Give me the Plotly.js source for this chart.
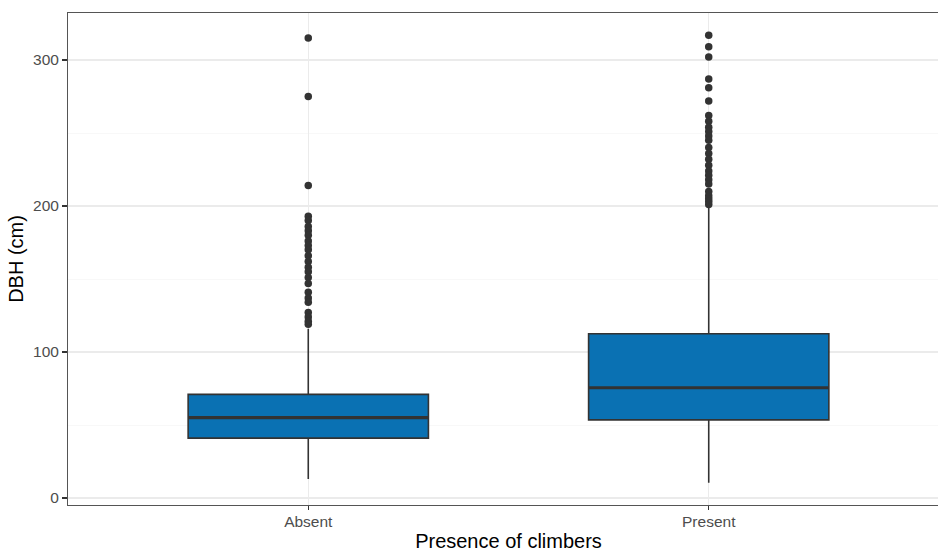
<!DOCTYPE html>
<html>
<head>
<meta charset="utf-8">
<script src="https://cdn.plot.ly/plotly-3.0.1.min.js"></script>
<style>html,body{margin:0;padding:0;background:#fff;overflow:hidden;width:938px;height:552px;}#chart{width:949px;height:552px;}</style>
</head>
<body>
<div id="chart"></div>
<script>
var categories = ["Absent", "Present"];
var q1 = [41, 53.5];
var medians = [55, 75.5];
var q3 = [71, 112.5];
var lowerWhisker = [13, 10.5];
var upperWhisker = [116, 200];
var outliersAbsent = [315, 275, 214, 193, 190, 186, 183, 180, 176, 173, 170, 166, 162, 158, 155, 151, 147, 141, 137, 134, 127, 124, 121, 119];
var outliersPresent = [317, 309, 302, 287, 281, 272, 262, 258, 254, 251, 248, 245, 240, 236, 232, 228, 224, 221, 218, 215, 210, 207, 205, 203, 201];

var outX = [], outY = [];
outliersAbsent.forEach(function(v){ outX.push(categories[0]); outY.push(v); });
outliersPresent.forEach(function(v){ outX.push(categories[1]); outY.push(v); });

var traces = [
  {
    type: "box",
    x: categories,
    q1: q1,
    median: medians,
    q3: q3,
    lowerfence: lowerWhisker,
    upperfence: upperWhisker,
    width: 0.6,
    fillcolor: "#0A71B3",
    line: {color: "#333333", width: 1.6},
    whiskerwidth: 0,
    boxpoints: false,
    hoverinfo: "skip",
    showlegend: false
  },
  {
    /* thick median line, ggplot style */
    type: "box",
    x: categories,
    q1: medians,
    median: medians,
    q3: medians,
    lowerfence: medians,
    upperfence: medians,
    width: 0.6,
    fillcolor: "rgba(0,0,0,0)",
    line: {color: "#333333", width: 3.2},
    whiskerwidth: 0,
    boxpoints: false,
    hoverinfo: "skip",
    showlegend: false
  },
  {
    type: "scatter",
    mode: "markers",
    x: outX,
    y: outY,
    marker: {color: "#333333", size: 7.5},
    hoverinfo: "skip",
    showlegend: false
  }
];

var layout = {
  width: 949,
  height: 552,
  margin: {l: 68, r: 0, t: 13, b: 47},
  paper_bgcolor: "#ffffff",
  plot_bgcolor: "#ffffff",
  font: {family: "Liberation Sans, Arial, sans-serif"},
  showlegend: false,
  boxmode: "overlay",
  xaxis: {
    type: "category",
    range: [-0.6, 1.6],
    showgrid: true,
    gridcolor: "#EBEBEB",
    gridwidth: 1.1,
    zeroline: false,
    showline: true,
    mirror: true,
    linecolor: "#555555",
    linewidth: 1,
    ticks: "outside",
    ticklen: 4,
    tickcolor: "#333333",
    tickwidth: 1.1,
    ticklabelstandoff: -2,
    tickfont: {size: 15.5, color: "#4D4D4D"},
    title: {text: "Presence of climbers", font: {size: 20, color: "#000000"}, standoff: 5}
  },
  yaxis: {
    range: [-4.8, 332.2],
    tickvals: [0, 100, 200, 300],
    ticktext: ["0", "100", "200", "300"],
    showgrid: true,
    gridcolor: "#EBEBEB",
    gridwidth: 1.1,
    minor: {tickvals: [50, 150, 250], showgrid: true, gridcolor: "#F3F3F3", gridwidth: 0.6, ticks: ""},
    zeroline: false,
    showline: true,
    mirror: true,
    linecolor: "#555555",
    linewidth: 1,
    ticks: "outside",
    ticklen: 5,
    tickcolor: "#333333",
    tickwidth: 1.1,
    tickfont: {size: 15.5, color: "#4D4D4D"},
    title: {text: "DBH (cm)", font: {size: 20, color: "#000000"}, standoff: 4}
  }
};

Plotly.newPlot("chart", traces, layout, {displayModeBar: false, staticPlot: true});
</script>
</body>
</html>
